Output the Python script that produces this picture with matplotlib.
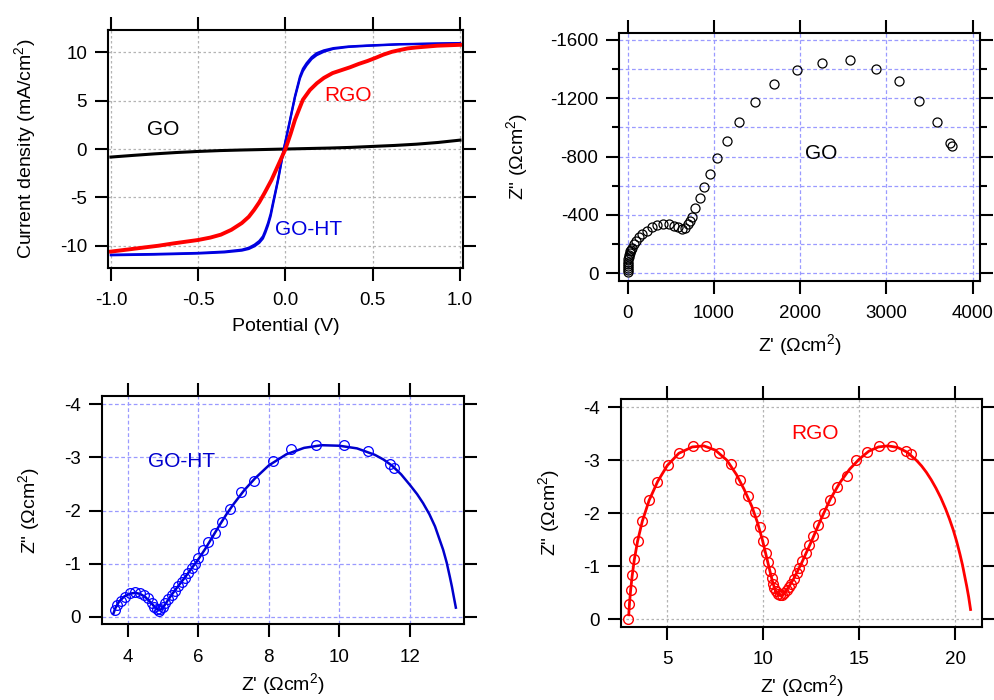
import matplotlib.pyplot as plt
from matplotlib.ticker import MultipleLocator

plt.rcParams['font.family'] = ['Liberation Sans', 'DejaVu Sans']
plt.rcParams['mathtext.fontset'] = 'custom'
plt.rcParams['mathtext.rm'] = 'Liberation Sans'
plt.rcParams['mathtext.it'] = 'Liberation Sans:italic'
plt.rcParams['axes.unicode_minus'] = False
plt.rcParams['axes.linewidth'] = 1.5

# --- top left: J-V curves ---
v_go = [-1.0, -0.875, -0.75, -0.625, -0.5, -0.375, -0.25, -0.125, 0.0,
        0.125, 0.25, 0.375, 0.5, 0.625, 0.75, 0.875, 1.0]
j_go = [-0.83, -0.66, -0.50, -0.36, -0.25, -0.16, -0.10, -0.05, 0.0,
        0.05, 0.10, 0.17, 0.27, 0.37, 0.50, 0.68, 0.92]

v_rgo = [-1.0, -0.9, -0.83, -0.73, -0.64, -0.5, -0.43, -0.37, -0.31, -0.25, -0.21,
         -0.18, -0.15, -0.12, -0.08, -0.04, 0.0, 0.03, 0.054, 0.08, 0.10, 0.14, 0.18,
         0.22, 0.27, 0.32, 0.37, 0.42, 0.47, 0.52, 0.56, 0.61, 0.66, 0.70, 0.75, 0.87, 1.0]
j_rgo = [-10.6, -10.38, -10.22, -10.0, -9.75, -9.4, -9.15, -8.85, -8.35, -7.65, -7.0,
         -6.3, -5.5, -4.55, -3.2, -1.6, 0.0, 1.6, 3.0, 4.2, 5.1, 6.1, 6.8,
         7.35, 7.85, 8.15, 8.45, 8.8, 9.1, 9.45, 9.75, 10.05, 10.25, 10.4, 10.5, 10.68, 10.77]

v_ht = [-1.0, -0.75, -0.5, -0.35, -0.25, -0.21, -0.177, -0.15, -0.129, -0.115, -0.10,
        -0.085, -0.072, -0.043, -0.01, 0.026, 0.054, 0.083, 0.10, 0.121, 0.15, 0.179,
        0.22, 0.274, 0.36, 0.465, 0.656, 1.0]
j_ht_fwd = [-10.92, -10.85, -10.74, -10.6, -10.40, -10.2, -9.88, -9.5, -9.02, -8.4, -7.64,
            -6.7, -5.58, -3.17, 0.0, 3.02, 5.44, 7.5, 8.3, 8.88, 9.5, 9.91,
            10.2, 10.43, 10.6, 10.70, 10.84, 10.95]
j_ht_rev = [-10.98, -10.91, -10.80, -10.68, -10.50, -10.33, -10.05, -9.7, -9.25, -8.65, -7.9,
            -6.95, -5.8, -3.3, -0.1, 2.9, 5.3, 7.3, 8.05, 8.65, 9.3, 9.7,
            10.05, 10.35, 10.55, 10.66, 10.82, 10.93]

# --- top right: GO impedance ---
zre_go = [0, 0, 1, 2, 4, 6, 9, 12, 16, 22, 30, 35, 50, 69, 96, 131, 169, 220, 278,
          343, 413, 479, 537, 587, 626, 664, 696, 719, 746, 780, 835, 885, 951, 1040,
          1152, 1291, 1476, 1700, 1963, 2257, 2574, 2875, 3150, 3382, 3590, 3737, 3764]
zim_go = [-10, -24, -38, -52, -66, -80, -95, -110, -124, -138, -150, -160, -176, -201,
          -221, -247, -269, -292, -315, -331, -338, -336, -326, -315, -306, -313, -336,
          -357, -388, -446, -514, -594, -681, -789, -907, -1040, -1177, -1296, -1394,
          -1440, -1461, -1401, -1319, -1182, -1035, -896, -875]

# --- bottom left: GO-HT impedance ---
zre_ht = [3.64, 3.71, 3.80, 3.92, 4.07, 4.21, 4.35, 4.47, 4.58, 4.68, 4.75, 4.84, 4.89,
          4.92, 4.99, 5.07, 5.15, 5.25, 5.34, 5.43, 5.53, 5.62, 5.72, 5.81, 5.91, 6.00,
          6.14, 6.29, 6.47, 6.68, 6.90, 7.20, 7.58, 8.13, 8.64, 9.34, 10.14, 10.82,
          11.43, 11.54]
zim_ht = [-0.13, -0.22, -0.30, -0.38, -0.44, -0.465, -0.45, -0.41, -0.35, -0.26, -0.19,
          -0.14, -0.11, -0.14, -0.19, -0.25, -0.33, -0.41, -0.49, -0.57, -0.65, -0.72,
          -0.82, -0.91, -0.99, -1.10, -1.26, -1.40, -1.58, -1.79, -2.02, -2.34, -2.56,
          -2.94, -3.15, -3.23, -3.23, -3.13, -2.88, -2.81]
zre_ht_fit = [3.59, 3.65, 3.75, 3.9, 4.05, 4.2, 4.35, 4.5, 4.65, 4.78, 4.88, 4.95, 5.05,
              5.2, 5.4, 5.6, 5.8, 6.0, 6.2, 6.4, 6.6, 6.8, 7.0, 7.3, 7.6, 8.0, 8.5, 9.0,
              9.5, 10.0, 10.5, 11.0, 11.25, 11.5, 11.75, 12.0, 12.2, 12.37, 12.55, 12.71,
              12.83, 12.94, 13.04, 13.13, 13.19, 13.24, 13.30]
zim_ht_fit = [-0.05, -0.16, -0.28, -0.38, -0.43, -0.45, -0.43, -0.37, -0.27, -0.17, -0.12,
              -0.14, -0.22, -0.37, -0.55, -0.72, -0.90, -1.08, -1.28, -1.50, -1.72, -1.93,
              -2.12, -2.38, -2.60, -2.85, -3.06, -3.18, -3.23, -3.22, -3.17, -3.05, -2.96,
              -2.84, -2.68, -2.48, -2.31, -2.14, -1.93, -1.70, -1.47, -1.26, -1.02, -0.75,
              -0.56, -0.38, -0.17]

# --- bottom right: RGO impedance ---
zre_rgo = [2.97, 3.02, 3.09, 3.18, 3.28, 3.46, 3.70, 4.06, 4.48, 5.02, 5.63, 6.32, 7.02,
           7.69, 8.30, 8.80, 9.22, 9.55, 9.81, 10.00, 10.14, 10.26, 10.35, 10.43, 10.50,
           10.57, 10.66, 10.75, 10.87, 10.99, 11.09, 11.22, 11.34, 11.46, 11.60, 11.74,
           11.88, 12.03, 12.20, 12.40, 12.60, 12.86, 13.14, 13.47, 13.85, 14.34, 14.83,
           15.39, 16.03, 16.72, 17.43, 17.68]
zim_rgo = [-0.01, -0.28, -0.55, -0.83, -1.13, -1.48, -1.85, -2.24, -2.59, -2.91, -3.14,
           -3.26, -3.26, -3.13, -2.92, -2.63, -2.32, -2.02, -1.73, -1.47, -1.25, -1.07,
           -0.91, -0.77, -0.67, -0.59, -0.52, -0.47, -0.45, -0.45, -0.49, -0.54, -0.60,
           -0.67, -0.76, -0.86, -0.97, -1.10, -1.24, -1.40, -1.57, -1.78, -2.00, -2.25,
           -2.50, -2.70, -3.00, -3.15, -3.27, -3.27, -3.17, -3.12]
zre_rgo_fit = [2.99, 3.03, 3.09, 3.17, 3.28, 3.45, 3.7, 4.05, 4.5, 5.0, 5.6, 6.3, 6.9,
               7.5, 8.1, 8.6, 9.0, 9.4, 9.7, 9.95, 10.15, 10.35, 10.5, 10.65, 10.8, 10.95,
               11.1, 11.3, 11.6, 12.0, 12.5, 13.0, 13.5, 14.0, 14.5, 15.0, 15.5, 16.0,
               16.5, 17.0, 17.5, 18.0, 18.25, 18.5, 18.75, 19.0, 19.25, 19.5, 19.7, 19.9,
               20.08, 20.25, 20.38, 20.5, 20.6, 20.7, 20.8]
zim_rgo_fit = [-0.08, -0.30, -0.55, -0.82, -1.12, -1.47, -1.85, -2.24, -2.60, -2.90, -3.13,
               -3.25, -3.27, -3.19, -3.00, -2.73, -2.45, -2.13, -1.82, -1.50, -1.20, -0.90,
               -0.68, -0.52, -0.45, -0.44, -0.49, -0.59, -0.77, -1.06, -1.46, -1.88, -2.27,
               -2.58, -2.83, -3.02, -3.17, -3.25, -3.27, -3.24, -3.15, -2.99, -2.89, -2.77,
               -2.63, -2.47, -2.29, -2.08, -1.89, -1.68, -1.46, -1.22, -1.02, -0.80, -0.62,
               -0.42, -0.18]

fig = plt.figure(figsize=(9.95, 7.0), dpi=100)
ax1 = fig.add_axes([0.1085, 0.6171, 0.3568, 0.34])
ax2 = fig.add_axes([0.6224, 0.5986, 0.3625, 0.3547])
ax3 = fig.add_axes([0.1022, 0.1081, 0.3641, 0.3262])
ax4 = fig.add_axes([0.6238, 0.1047, 0.3634, 0.3249])

blue_grid = '#9a9aff'
gray_grid = '#b4b4b4'


def style(ax, gcolor, gls):
    ax.tick_params(which='major', direction='out', length=9.5, width=1.5,
                   top=True, right=True, labelsize=13.5)
    ax.tick_params(which='minor', direction='out', length=5, width=1.5,
                   top=True, right=True)
    ax.tick_params(axis='x', pad=8)
    ax.tick_params(axis='y', pad=5.5)
    ax.grid(True, which='major', color=gcolor, linestyle=gls, linewidth=0.9)
    ax.set_axisbelow(True)


# J-V
ax1.plot(v_go, j_go, color='black', lw=2.2)
ax1.plot(v_ht, j_ht_fwd, color='#0000e0', lw=1.6)
ax1.plot(v_ht, j_ht_rev, color='#0000e0', lw=1.6)
ax1.plot(v_rgo, j_rgo, color='#ff0000', lw=2.8)
ax1.set_xlim(-1.017, 1.017)
ax1.set_ylim(-12.3, 12.3)
ax1.xaxis.set_major_locator(MultipleLocator(0.5))
ax1.yaxis.set_major_locator(MultipleLocator(5))
style(ax1, gray_grid, (0, (2, 2)))
ax1.text(-0.70, 2.0, 'GO', color='black', fontsize=15, ha='center', va='center')
ax1.text(0.36, 5.54, 'RGO', color='#ff0000', fontsize=15, ha='center', va='center')
ax1.text(0.13, -8.33, 'GO-HT', color='#0000e0', fontsize=15, ha='center', va='center')
ax1.set_xlabel('Potential (V)', fontsize=14)
ax1.set_ylabel('Current density (mA/cm$^{2}$)', fontsize=14)
ax1.xaxis.set_label_coords(0.5, -0.21)
ax1.yaxis.set_label_coords(-0.197, 0.5)

# GO Nyquist
ax2.plot(zre_go, zim_go, 'o', mfc='none', mec='black', ms=6.5, mew=0.9)
ax2.set_xlim(-97, 4085)
ax2.set_ylim(53, -1650)
ax2.xaxis.set_major_locator(MultipleLocator(1000))
ax2.yaxis.set_major_locator(MultipleLocator(400))
ax2.yaxis.set_minor_locator(MultipleLocator(200))
style(ax2, blue_grid, (0, (3, 2)))
ax2.grid(True, which='minor', axis='y', color=blue_grid, linestyle=(0, (3, 2)), linewidth=0.9)
ax2.text(2249, -823, 'GO', color='black', fontsize=15, ha='center', va='center')
ax2.set_xlabel("Z' (\u03a9cm$^{2}$)", fontsize=14)
ax2.set_ylabel('Z" (\u03a9cm$^{2}$)', fontsize=14)
ax2.xaxis.set_label_coords(0.5, -0.205)
ax2.yaxis.set_label_coords(-0.2476, 0.5)

# GO-HT Nyquist
ax3.plot(zre_ht_fit, zim_ht_fit, color='#0000cc', lw=1.8)
ax3.plot(zre_ht, zim_ht, 'o', mfc='none', mec='#0000ff', ms=7, mew=0.9)
ax3.set_xlim(3.263, 13.53)
ax3.set_ylim(0.144, -4.157)
ax3.xaxis.set_major_locator(MultipleLocator(2))
ax3.yaxis.set_major_locator(MultipleLocator(1))
style(ax3, blue_grid, (0, (3, 2)))
ax3.text(5.53, -2.93, 'GO-HT', color='#0000cc', fontsize=15, ha='center', va='center')
ax3.set_xlabel("Z' (\u03a9cm$^{2}$)", fontsize=14)
ax3.set_ylabel('Z" (\u03a9cm$^{2}$)', fontsize=14)
ax3.xaxis.set_label_coords(0.5, -0.205)
ax3.yaxis.set_label_coords(-0.165, 0.5)

# RGO Nyquist
ax4.plot(zre_rgo_fit, zim_rgo_fit, color='#ff0000', lw=2.0)
ax4.plot(zre_rgo, zim_rgo, 'o', mfc='none', mec='#ff0000', ms=7, mew=1.0)
ax4.set_xlim(2.57, 21.41)
ax4.set_ylim(0.145, -4.15)
ax4.xaxis.set_major_locator(MultipleLocator(5))
ax4.yaxis.set_major_locator(MultipleLocator(1))
style(ax4, gray_grid, (0, (2, 2)))
ax4.text(12.69, -3.50, 'RGO', color='#ff0000', fontsize=15, ha='center', va='center')
ax4.set_xlabel("Z' (\u03a9cm$^{2}$)", fontsize=14)
ax4.set_ylabel('Z" (\u03a9cm$^{2}$)', fontsize=14)
ax4.xaxis.set_label_coords(0.5, -0.205)
ax4.yaxis.set_label_coords(-0.162, 0.5)

fig.savefig('out.png', dpi=100)
